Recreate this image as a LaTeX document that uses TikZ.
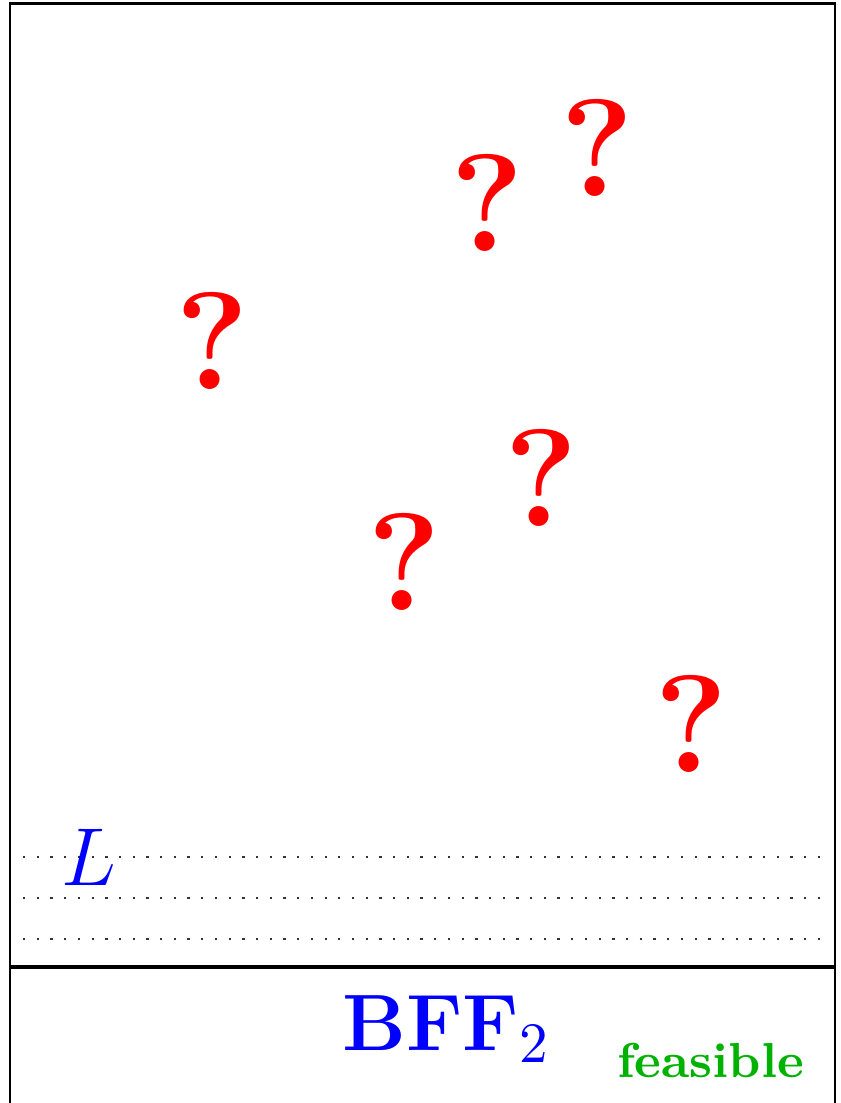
\documentclass[tikz,border=0pt]{standalone}
\usepackage{xcolor}
\definecolor{feasgreen}{RGB}{0,178,0}
\begin{document}
\begin{tikzpicture}[x=0.17513pt,y=-0.17513pt,
  qmark/.style={text=red,inner sep=0pt,font=\fontsize{24.3}{28}\selectfont\bfseries},
  frameline/.style={line width=0.5pt,black},
  sepline/.style={line width=0.8pt,black},
  dotline/.style={dotted,line width=0.4pt,black!80}]
\useasboundingbox (0,0) rectangle (840,1103);
\clip (0,0) rectangle (840,1103);
% frame
\draw[frameline] (10,1130) -- (10,3.5) -- (835,3.5) -- (835,1130);
\draw[sepline] (10,967) -- (835,967);
% dotted lines
\coordinate (d1a) at (23,857); \coordinate (d1b) at (826,857);
\coordinate (d2a) at (23,898); \coordinate (d2b) at (826,898);
\coordinate (d3a) at (23,939); \coordinate (d3b) at (826,939);
\draw[dotline] (d1a) -- (d1b);
\draw[dotline] (d2a) -- (d2b);
\draw[dotline] (d3a) -- (d3b);
% question marks
\node[qmark] (q1) at (597,148) {?};
\node[qmark] (q2) at (487,203) {?};
\node[qmark] (q3) at (212,341) {?};
\node[qmark] (q4) at (541,478) {?};
\node[qmark] (q5) at (404,562) {?};
\node[qmark] (q6) at (691,724) {?};
% labels
\node[text=blue,inner sep=0pt,anchor=base,font=\fontsize{13.8}{16}\selectfont] (L) at (89,885) {$L$};
\node[text=blue,inner sep=0pt,anchor=base west,font=\fontsize{14}{17}\selectfont] (bff) at (341,1050) {\textbf{BFF}$_2$};
\node[text=feasgreen,inner sep=0pt,anchor=base west,font=\fontsize{8.6}{10}\selectfont\bfseries] (feas) at (616,1077) {feasible};
\end{tikzpicture}
\end{document}
